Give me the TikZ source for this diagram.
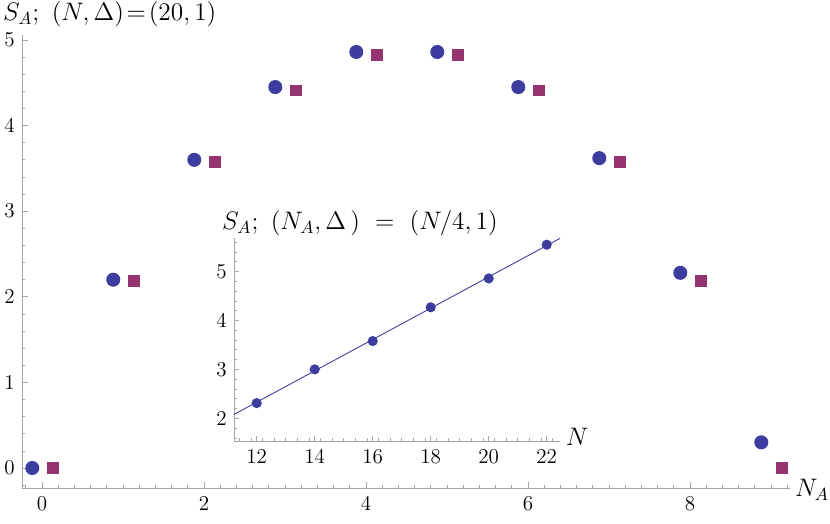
\documentclass[tikz,border=0pt]{standalone}
\usepackage{tikz}
\definecolor{dotblue}{RGB}{61,61,160}
\definecolor{sqpurple}{RGB}{150,52,112}
\tikzset{
  circ/.style={circle,fill=dotblue,inner sep=0pt,minimum size=8pt},
  sq/.style={rectangle,fill=sqpurple,inner sep=0pt,minimum size=6.8pt},
  smallcirc/.style={circle,fill=dotblue,inner sep=0pt,minimum size=5.8pt},
  ticklab/.style={font=\large},
  axisline/.style={draw=gray!70,line width=0.5pt}
}
\begin{document}
\begin{tikzpicture}[x=0.02cm,y=-0.02cm]
\useasboundingbox (0,0) rectangle (830,523);

% Main axes (pixel frame: x = 42+81*NA, y = 468-85.6*S)
\def\mx#1{42+81*(#1)}
\def\my#1{468-85.6*(#1)}
\coordinate (xo) at (22,488);
\coordinate (xe) at (790,488);
\coordinate (yt) at (22,35);
\draw[axisline] (xo) -- (xe);
\draw[axisline] (xo) -- (yt);
\foreach \t in {-0.2,0,...,9.2} \draw[gray!70] ({\mx{\t}},488) -- ({\mx{\t}},485);
\foreach \t in {0,2,4,6,8} {
  \draw[gray!70] ({\mx{\t}},488) -- ({\mx{\t}},482);
  \node[ticklab,below] (xl\t) at ({\mx{\t}},490) {\t};
}
\foreach \t in {-0.2,0,...,5.2} \draw[gray!70] (22,{\my{\t}}) -- (25,{\my{\t}});
\foreach \t in {0,...,5} {
  \draw[gray!70] (22,{\my{\t}}) -- (28,{\my{\t}});
  \node[ticklab,left] (yl\t) at (21,{\my{\t}}) {\t};
}
\node[font=\Large] (xlab) at (812,490) {$N_A$};
\node[font=\Large,anchor=west] (ylab) at (-3,14) {$S_A;\ (N,\Delta)\!=\!(20,1)$};

% Circles and squares
\foreach \n/\v in {0/0,1/2.2,2/3.6,3/4.45,4/4.86,5/4.86,6/4.45,7/3.62,8/2.28,9/0.3}
  \node[circ] (c\n) at ({\mx{\n-0.12}},{\my{\v}}) {};
\foreach \n/\v in {0/0,1/2.18,2/3.57,3/4.41,4/4.82,5/4.82,6/4.41,7/3.57,8/2.18,9/0}
  \node[sq] (s\n) at ({\mx{\n+0.13}},{\my{\v}}) {};

% Inset (x = 256.7+29*(N-12), y = 418.3-48.9*(S-2))
\def\ix#1{256.7+29*((#1)-12)}
\def\iy#1{418.3-48.9*((#1)-2)}
\coordinate (io) at (234,441);
\coordinate (ie) at (560,441);
\coordinate (it) at (234,238);
\draw[axisline] (io) -- (ie);
\draw[axisline] (io) -- (it);
\foreach \t in {11.4,11.8,...,22.6} \draw[gray!70] ({\ix{\t}},441) -- ({\ix{\t}},438);
\foreach \t in {12,14,...,22} {
  \draw[gray!70] ({\ix{\t}},441) -- ({\ix{\t}},436);
  \node[ticklab,below] (ixl\t) at ({\ix{\t}},443) {\t};
}
\foreach \t in {1.6,1.8,...,5.6} \draw[gray!70] (234,{\iy{\t}}) -- (237,{\iy{\t}});
\foreach \t in {2,...,5} {
  \draw[gray!70] (234,{\iy{\t}}) -- (239,{\iy{\t}});
  \node[ticklab,left] (iyl\t) at (233,{\iy{\t}}) {\t};
}
\node[font=\Large] (ixlab) at (577,437) {$N$};
\node[font=\Large,anchor=west] (iylab) at (216,223) {$S_A;\ (N_A,\Delta\,)\ =\ (N/4,1)$};
\coordinate (fa) at ({\ix{11.22}},{\iy{2.08}});
\coordinate (fb) at ({\ix{22.46}},{\iy{5.68}});
\draw[dotblue,line width=0.5pt] (fa) -- (fb);
\foreach \n/\v in {12/2.31,14/3.0,16/3.58,18/4.27,20/4.86,22/5.55}
  \node[smallcirc] (p\n) at ({\ix{\n}},{\iy{\v}}) {};
\end{tikzpicture}
\end{document}
